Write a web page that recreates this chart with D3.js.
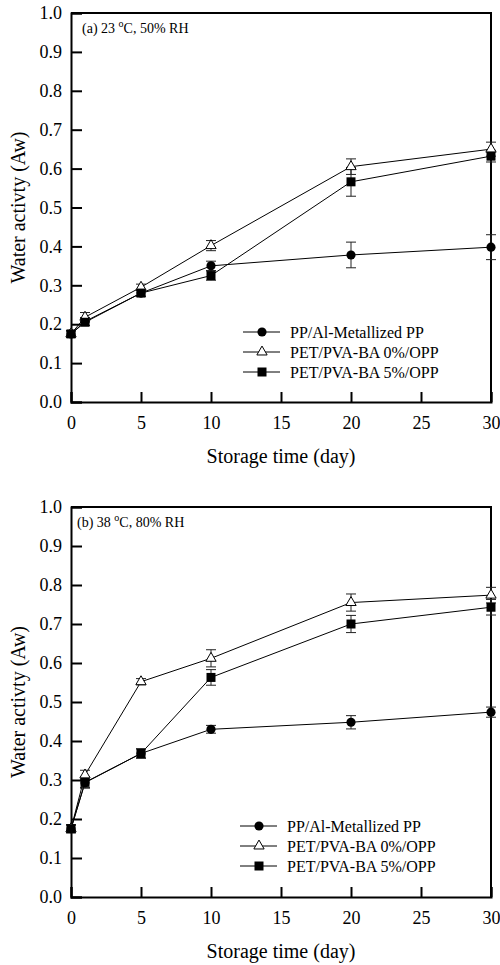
<!DOCTYPE html>
<html lang="en">
<head>
<meta charset="utf-8">
<title>Water activity</title>
<script src="https://cdn.jsdelivr.net/npm/d3@7"></script>
<style>
  body { margin: 0; background: #fff; }
</style>
</head>
<body>
<script>
// storage days and ticks
var days = [0, 1, 5, 10, 20, 30];
var xTicks = [0, 5, 10, 15, 20, 25, 30];
var yTicks = [0, 0.1, 0.2, 0.3, 0.4, 0.5, 0.6, 0.7, 0.8, 0.9, 1.0];
var seriesNames = ["PP/Al-Metallized PP", "PET/PVA-BA 0%/OPP", "PET/PVA-BA 5%/OPP"];

// panel (a) 23 C, 50% RH
var aPP      = [0.175, 0.207, 0.280, 0.350, 0.378, 0.398];
var aPPErr   = [0.008, 0.010, 0.008, 0.012, 0.033, 0.032];
var aPET0    = [0.175, 0.218, 0.295, 0.402, 0.605, 0.650];
var aPET0Err = [0.008, 0.012, 0.008, 0.013, 0.020, 0.018];
var aPET5    = [0.175, 0.205, 0.280, 0.325, 0.566, 0.632];
var aPET5Err = [0.008, 0.008, 0.008, 0.012, 0.037, 0.015];

// panel (b) 38 C, 80% RH
var bPP      = [0.175, 0.293, 0.368, 0.430, 0.448, 0.474];
var bPPErr   = [0.010, 0.012, 0.012, 0.010, 0.017, 0.013];
var bPET0    = [0.175, 0.313, 0.552, 0.612, 0.755, 0.774];
var bPET0Err = [0.010, 0.012, 0.008, 0.022, 0.022, 0.020];
var bPET5    = [0.175, 0.294, 0.368, 0.563, 0.700, 0.743];
var bPET5Err = [0.010, 0.015, 0.012, 0.020, 0.022, 0.020];

var w = 500, h = 965;
var left = 71, right = 491;
var serif = "'Liberation Serif', 'Times New Roman', serif";

var svg = d3.select("body").append("svg")
  .attr("width", w)
  .attr("height", h)
  .style("font-family", serif);

var markers = ["circle", "triangle", "square"];

function markerPath(type) {
  if (type == "circle") return d3.symbol().type(d3.symbolCircle).size(66)();
  if (type == "square") return d3.symbol().type(d3.symbolSquare).size(81)();
  return d3.symbol().type(d3.symbolTriangle).size(46)();
}

function drawMarker(sel, type) {
  sel.attr("d", markerPath(type))
    .attr("fill", type == "triangle" ? "#fff" : "#000")
    .attr("stroke", "#000")
    .attr("stroke-width", type == "triangle" ? 1 : 0);
}

function drawPanel(top, bottom, series, label, legendY, legendX) {
  var g = svg.append("g");

  var x = d3.scaleLinear().domain([0, 30]).range([left, right]);
  var y = d3.scaleLinear().domain([0, 1]).range([bottom, top]);

  // frame top/right
  g.append("path")
    .attr("d", "M" + left + "," + top + "H" + right + "V" + bottom)
    .attr("fill", "none")
    .attr("stroke", "#000")
    .attr("stroke-width", 2);

  var xAxis = d3.axisBottom(x).tickValues(xTicks).tickFormat(d3.format("d"))
    .tickSize(-10).tickPadding(14);
  var yAxis = d3.axisLeft(y).tickValues(yTicks).tickFormat(d3.format(".1f"))
    .tickSize(-11).tickPadding(9);

  var gx = g.append("g")
    .attr("transform", "translate(0," + bottom + ")")
    .call(xAxis);
  var gy = g.append("g")
    .attr("transform", "translate(" + left + ",0)")
    .call(yAxis);

  [gx, gy].forEach(function(a) {
    a.attr("font-family", null).attr("font-size", null);
    a.select(".domain").attr("stroke-width", 2);
    a.selectAll(".tick line").attr("stroke-width", 2);
    a.selectAll(".tick text")
      .style("font-family", serif)
      .style("font-size", "18px")
      .attr("fill", "#000");
  });

  // axis titles
  g.append("text")
    .attr("x", (left + right) / 2)
    .attr("y", bottom + 61)
    .attr("text-anchor", "middle")
    .style("font-size", "20px")
    .text("Storage time (day)");

  g.append("text")
    .attr("transform", "translate(25," + ((top + bottom) / 2) + ") rotate(-90)")
    .attr("text-anchor", "middle")
    .style("font-size", "20px")
    .text("Water activty (Aw)");

  // panel label with superscript o
  var t = g.append("text")
    .attr("x", label.x)
    .attr("y", top + 20)
    .style("font-size", "14px");
  t.append("tspan").text(label.pre);
  t.append("tspan").attr("dy", -6).style("font-size", "10px").text("o");
  t.append("tspan").attr("dy", 6).text(label.post);

  var line = d3.line()
    .x(function(d) { return x(d.day); })
    .y(function(d) { return y(d.v); });

  series.forEach(function(s, i) {
    var pts = days.map(function(d, j) { return { day: d, v: s.values[j], e: s.errors[j] }; });

    g.append("path")
      .datum(pts)
      .attr("d", line)
      .attr("fill", "none")
      .attr("stroke", "#000")
      .attr("stroke-width", 1);

    // error bars
    var eb = g.append("g").attr("stroke", "#222").attr("stroke-width", 1);
    eb.selectAll("line.v")
      .data(pts).enter().append("line")
      .attr("x1", function(d) { return x(d.day); })
      .attr("x2", function(d) { return x(d.day); })
      .attr("y1", function(d) { return y(d.v - d.e); })
      .attr("y2", function(d) { return y(d.v + d.e); });
    eb.selectAll("line.t")
      .data(pts).enter().append("line")
      .attr("x1", function(d) { return x(d.day) - 5; })
      .attr("x2", function(d) { return x(d.day) + 5; })
      .attr("y1", function(d) { return y(d.v + d.e); })
      .attr("y2", function(d) { return y(d.v + d.e); });
    eb.selectAll("line.b")
      .data(pts).enter().append("line")
      .attr("x1", function(d) { return x(d.day) - 5; })
      .attr("x2", function(d) { return x(d.day) + 5; })
      .attr("y1", function(d) { return y(d.v - d.e); })
      .attr("y2", function(d) { return y(d.v - d.e); });
  });

  series.forEach(function(s, i) {
    var pts = days.map(function(d, j) { return { day: d, v: s.values[j] }; });
    g.append("g").selectAll("path")
      .data(pts).enter().append("path")
      .attr("transform", function(d) { return "translate(" + x(d.day) + "," + y(d.v) + ")"; })
      .call(drawMarker, markers[i]);
  });

  // legend
  seriesNames.forEach(function(name, i) {
    var ly = legendY + i * 20;
    g.append("line")
      .attr("x1", legendX).attr("x2", legendX + 37)
      .attr("y1", ly).attr("y2", ly)
      .attr("stroke", "#000").attr("stroke-width", 1);
    g.append("path")
      .attr("transform", "translate(" + (legendX + 19) + "," + ly + ")")
      .call(drawMarker, markers[i]);
    g.append("text")
      .attr("x", legendX + 47)
      .attr("y", ly + 5.5)
      .style("font-size", "16px")
      .text(name);
  });
}

drawPanel(13, 402,
  [{ values: aPP, errors: aPPErr }, { values: aPET0, errors: aPET0Err }, { values: aPET5, errors: aPET5Err }],
  { x: 82, pre: "(a) 23 ", post: "C, 50% RH" }, 332, 243);

drawPanel(507, 897,
  [{ values: bPP, errors: bPPErr }, { values: bPET0, errors: bPET0Err }, { values: bPET5, errors: bPET5Err }],
  { x: 77, pre: "(b) 38 ", post: "C, 80% RH" }, 826, 240);
</script>
</body>
</html>
